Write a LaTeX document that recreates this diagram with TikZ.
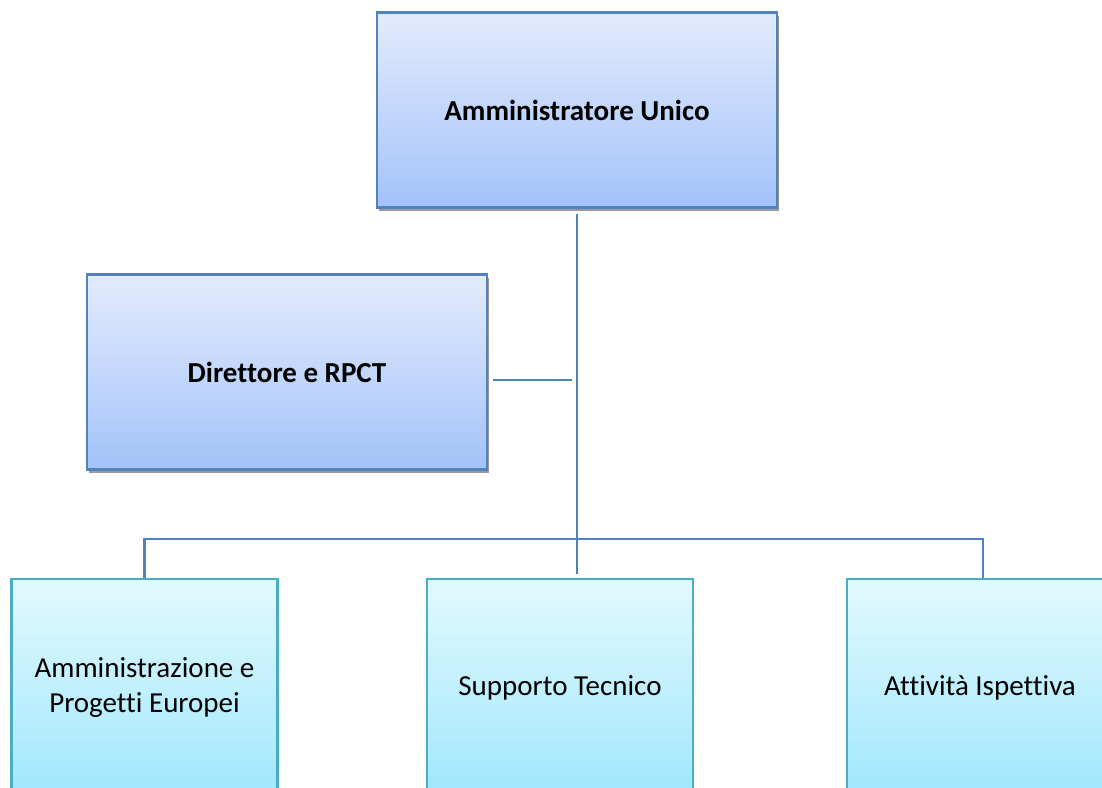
\documentclass[tikz,border=0pt]{standalone}
\usepackage{fontspec}
\setmainfont{Carlito}[Ligatures=NoCommon]
\usetikzlibrary{shadows}
\definecolor{linkblue}{HTML}{4F81BD}
\definecolor{headedge}{HTML}{5282C0}
\definecolor{headtop}{HTML}{E3ECFD}
\definecolor{headbot}{HTML}{A3C2F9}
\definecolor{unitedge}{HTML}{4BACC6}
\definecolor{unittop}{HTML}{E2F9FE}
\definecolor{unitbot}{HTML}{A0E7FC}
\tikzset{
	headbox/.style={draw=headedge, line width=2.2pt, top color=headtop, bottom color=headbot,
		minimum width=400pt, minimum height=195pt, font=\fontsize{29}{35}\selectfont\bfseries,
		drop shadow={shadow xshift=2pt, shadow yshift=-3pt, fill=black!40, opacity=1}},
	unitbox/.style={draw=unitedge, line width=2.2pt, top color=unittop, bottom color=unitbot,
		minimum width=266pt, minimum height=218pt, align=center, font=\fontsize{29}{35}\selectfont},
	link/.style={draw=linkblue, line width=2.2pt}
}

\begin{document}
\begin{tikzpicture}[x=1pt, y=-1pt]
		%%%%% START %%%%%
		\useasboundingbox (0, 0) rectangle (1102, 787);
		\clip (0, 0) rectangle (1102, 787);
		
		\node[headbox] (admin) at (577, 110) {Amministratore Unico};
		\node[headbox] (dir) at (287, 372) {Direttore e RPCT};
		
		\node[unitbox] (amm) at (144.5, 688) {Amministrazione e\\Progetti Europei};
		\node[unitbox] (supp) at (560, 688) {Supporto Tecnico};
		\node[unitbox] (att) at (980, 688) {Attività Ispettiva};
		
		\coordinate (stem) at (577, 380);
		\coordinate (bus) at (577, 539);
		
		\draw[link] ([yshift=-5pt]admin.south -| stem) -- ([yshift=4pt]supp.north -| stem);
		\draw[link] ([xshift=5pt]dir.east |- stem) -- ([xshift=-5pt]stem);
		\draw[link] (amm.north) |- (bus) -| ([xshift=3pt]att.north);
		
		%%%%% END %%%%%
	\end{tikzpicture}
\end{document}
